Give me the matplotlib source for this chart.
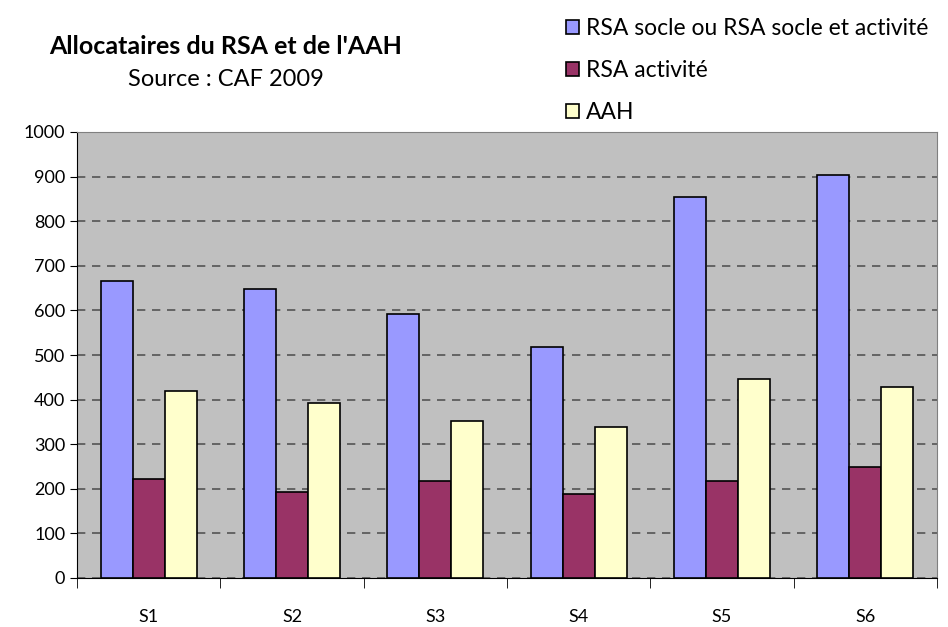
import matplotlib.pyplot as plt
import numpy as np

plt.rcParams['font.family'] = ['Lato', 'DejaVu Sans']

secteurs = ['S1', 'S2', 'S3', 'S4', 'S5', 'S6']
rsa_socle = [667, 648, 591, 519, 855, 904]
rsa_activite = [223, 193, 218, 188, 218, 250]
aah = [420, 393, 353, 339, 447, 429]

series = [
    ('RSA socle ou RSA socle et activité', rsa_socle, '#9999FF'),
    ('RSA activité', rsa_activite, '#993366'),
    ('AAH', aah, '#FFFFCC'),
]

fig = plt.figure(figsize=(9.48, 6.27), dpi=100)
ax = fig.add_axes([77/948, 49/627, 860/948, 446/627])
ax.set_facecolor('#C0C0C0')

x = np.arange(len(secteurs))
w = 0.224
for i, (lab, vals, col) in enumerate(series):
    ax.bar(x + (i - 1) * w, vals, w, color=col, edgecolor='black',
           linewidth=1.2, label=lab, zorder=3)

ax.set_xlim(-0.5, len(secteurs) - 0.5)
ax.set_ylim(0, 1000)
ax.set_yticks(range(0, 1001, 100))
ax.yaxis.grid(True, linestyle=(0, (5, 4)), color='#555555', linewidth=1.2, zorder=1)

ax.set_xticks(x)
ax.set_xticklabels(secteurs, fontsize=13)
ax.tick_params(axis='x', length=0, pad=22)
ax.set_xticks(np.arange(-0.5, len(secteurs)), minor=True)
ax.tick_params(axis='x', which='minor', length=7, direction='out', color='black')
ax.tick_params(axis='y', length=5, direction='out', labelsize=13)

for s in ['top', 'right']:
    ax.spines[s].set_color('#808080')
ax.spines['left'].set_color('black')
ax.spines['bottom'].set_color('black')

fig.text(226/948, 1 - 46/627, "Allocataires du RSA et de l'AAH",
         ha='center', va='center', fontsize=18, fontweight='bold')
fig.text(226/948, 1 - 80/627, "Source : CAF 2009",
         ha='center', va='center', fontsize=17)

fig.legend(loc='upper left', bbox_to_anchor=(557/948, 1 - 9/627),
           frameon=False, fontsize=16.5, handlelength=0.55, handleheight=0.55,
           handletextpad=0.3, labelspacing=0.92, borderaxespad=0)

fig.savefig('out.png', dpi=100)
